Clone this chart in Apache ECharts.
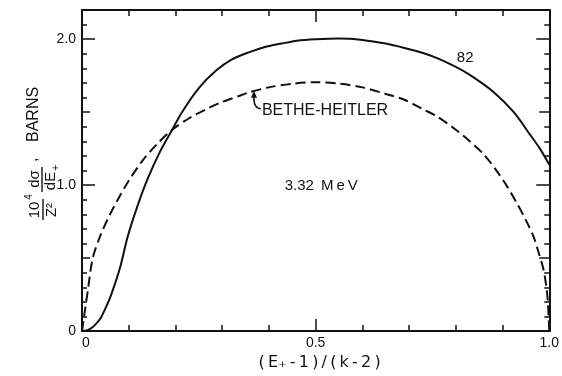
<!DOCTYPE html>
<html>
<head>
<meta charset="utf-8">
<script src="https://cdn.jsdelivr.net/npm/echarts@6/dist/echarts.min.js"></script>
<style>
  html, body { margin: 0; padding: 0; background: #fff; }
  #chart { width: 562px; height: 376px; }
</style>
</head>
<body>
<div id="chart"></div>
<script>
// Pair-production cross section for Z = 82 versus the Bethe-Heitler result, k = 3.32 MeV
const lead82X = [0, 0.01, 0.02, 0.03, 0.04, 0.05, 0.062, 0.081, 0.098, 0.119, 0.14, 0.167, 0.193, 0.214,
  0.25, 0.287, 0.32, 0.357, 0.39, 0.427, 0.46, 0.5, 0.55, 0.6, 0.65, 0.69, 0.73, 0.76, 0.8, 0.83,
  0.88, 0.924, 0.958, 0.98, 1.0];
const lead82Y = [0, 0.005, 0.02, 0.05, 0.09, 0.155, 0.245, 0.43, 0.65, 0.86, 1.04, 1.23, 1.38, 1.5,
  1.665, 1.785, 1.86, 1.91, 1.945, 1.97, 1.99, 2.0, 2.005, 1.995, 1.97, 1.94, 1.905, 1.87, 1.81, 1.755,
  1.64, 1.5, 1.35, 1.25, 1.14];

const betheX = [0, 0.003, 0.006, 0.013, 0.023, 0.04, 0.06, 0.08, 0.1, 0.13, 0.16, 0.193, 0.23, 0.272,
  0.3, 0.335, 0.357, 0.4, 0.45, 0.5, 0.55, 0.6, 0.65, 0.69, 0.73, 0.76, 0.8, 0.83, 0.86, 0.887,
  0.91, 0.93, 0.95, 0.966, 0.977, 0.987, 0.994, 0.997, 1.0];
const betheY = [0, 0.07, 0.135, 0.29, 0.5, 0.66, 0.8, 0.92, 1.03, 1.17, 1.28, 1.38, 1.46, 1.53,
  1.57, 1.61, 1.635, 1.67, 1.695, 1.705, 1.695, 1.67, 1.625, 1.585, 1.52, 1.47, 1.38, 1.3, 1.21, 1.1,
  0.99, 0.88, 0.76, 0.65, 0.54, 0.43, 0.3, 0.2, 0];

const xLabelValues = [0, 0.5, 1];
const yLabelValues = [0, 1, 2];
const xLongTicks = [0.5];
const yMidTicks = [0.5, 1.5];
const yLongTicks = [1, 2];

const ink = '#111';
const sans = '"Liberation Sans", Arial, sans-serif';
const fmt = v => (v === 0 ? '0' : v.toFixed(1));

function frameAxis(position, min, max, extra) {
  return Object.assign({
    type: 'value', position, min, max, interval: 0.1,
    axisLine: { show: true, onZero: false, lineStyle: { color: ink, width: 2 } },
    axisTick: { show: true, inside: true, length: 6, lineStyle: { color: ink, width: 1.5 } },
    axisLabel: { show: false },
    splitLine: { show: false }
  }, extra || {});
}
function tickOnlyAxis(position, min, max, values, len) {
  return {
    type: 'value', position, min, max,
    axisLine: { show: false, onZero: false },
    axisTick: { show: true, inside: true, length: len, customValues: values,
      lineStyle: { color: ink, width: 1.5 } },
    axisLabel: { show: false },
    splitLine: { show: false }
  };
}

const chart = echarts.init(document.getElementById('chart'), null, { renderer: 'canvas' });

chart.setOption({
  animation: false,
  backgroundColor: '#fff',
  grid: { left: 82, right: 9, top: 10, bottom: 43 },
  xAxis: [
    frameAxis('bottom', 0, 1, {
      axisLabel: {
        show: true, customValues: xLabelValues, formatter: fmt, color: ink,
        fontFamily: sans, fontSize: 14, margin: 5, alignMinLabel: 'left'
      },
      name: '(\u2009E\u208A\u2009-\u20091\u2009)\u2009/\u2009(\u2009k\u2009-\u20092\u2009)',
      nameLocation: 'middle', nameGap: 20,
      nameTextStyle: { color: ink, fontFamily: '"DejaVu Sans", sans-serif', fontSize: 16,
        padding: [0, 0, 0, 8] }
    }),
    tickOnlyAxis('bottom', 0, 1, xLongTicks, 12),
    frameAxis('top', 0, 1),
    tickOnlyAxis('top', 0, 1, xLongTicks, 12)
  ],
  yAxis: [
    frameAxis('left', 0, 2.2, {
      axisTick: { show: true, inside: true, length: 5, lineStyle: { color: ink, width: 1.5 } },
      axisLabel: {
        show: true, customValues: yLabelValues, formatter: fmt, color: ink,
        fontFamily: sans, fontSize: 14, margin: 6
      }
    }),
    tickOnlyAxis('left', 0, 2.2, yMidTicks, 8),
    tickOnlyAxis('left', 0, 2.2, yLongTicks, 13),
    frameAxis('right', 0, 2.2, {
      axisTick: { show: true, inside: true, length: 5, lineStyle: { color: ink, width: 1.5 } }
    }),
    tickOnlyAxis('right', 0, 2.2, yMidTicks, 10),
    tickOnlyAxis('right', 0, 2.2, yLongTicks, 13)
  ],
  series: [
    {
      name: '82', type: 'line', xAxisIndex: 0, yAxisIndex: 0,
      data: lead82X.map((x, i) => [x, lead82Y[i]]),
      showSymbol: false, smooth: 0.3,
      lineStyle: { color: ink, width: 2 }
    },
    {
      name: 'BETHE-HEITLER', type: 'line', xAxisIndex: 0, yAxisIndex: 0,
      data: betheX.map((x, i) => [x, betheY[i]]),
      showSymbol: false, smooth: 0.3,
      lineStyle: { color: ink, width: 2, type: [10, 5] }
    }
  ]
});

// Annotations placed from data coordinates
const px = (x, y) => chart.convertToPixel({ xAxisIndex: 0, yAxisIndex: 0 }, [x, y]);
const curveLabel = px(0.82, 1.871);
const betheLabel = px(0.385, 1.51);
const arrowTip = px(0.367, 1.64);
const energyLabel = px(0.512, 0.993);

const textStyle = (extra) => Object.assign({ fill: ink, fontFamily: sans }, extra);

chart.setOption({
  graphic: [
    { type: 'text', x: curveLabel[0], y: curveLabel[1],
      style: textStyle({ text: '82', fontSize: 15, align: 'center', verticalAlign: 'middle' }) },
    { type: 'text', x: betheLabel[0], y: betheLabel[1],
      style: textStyle({ text: 'BETHE-HEITLER', fontSize: 16, align: 'left', verticalAlign: 'middle' }) },
    { type: 'bezierCurve',
      shape: { x1: betheLabel[0] - 1, y1: betheLabel[1] - 2,
        cpx1: arrowTip[0], cpy1: betheLabel[1] - 2,
        x2: arrowTip[0] + 0.5, y2: arrowTip[1] + 5 },
      style: { stroke: ink, lineWidth: 1.6, fill: null } },
    { type: 'polygon',
      shape: { points: [[arrowTip[0] + 0.5, arrowTip[1] - 1], [arrowTip[0] - 2.5, arrowTip[1] + 6],
        [arrowTip[0] + 3.5, arrowTip[1] + 6]] },
      style: { fill: ink } },
    { type: 'text', x: energyLabel[0], y: energyLabel[1],
      style: textStyle({ text: '3.32\u2009 M\u2009e\u2009V', fontSize: 15, align: 'center', verticalAlign: 'middle' }) },
    // rotated y-axis title: 10^4/Z^2 dσ/dE+ , BARNS
    { type: 'group', x: 42, y: 230, rotation: Math.PI / 2,
      children: [
        { type: 'text', x: 20, y: 0, style: textStyle({ text: '10', fontSize: 15, align: 'center', verticalAlign: 'bottom' }) },
        { type: 'text', x: 33, y: -8, style: textStyle({ text: '4', fontSize: 10, align: 'center', verticalAlign: 'bottom' }) },
        { type: 'line', shape: { x1: 10, y1: 1, x2: 31, y2: 1 }, style: { stroke: ink, lineWidth: 1.4 } },
        { type: 'text', x: 20, y: 2, style: textStyle({ text: 'Z\u00B2', fontSize: 15, align: 'center', verticalAlign: 'top' }) },
        { type: 'text', x: 51, y: 0, style: textStyle({ text: 'd\u03C3', fontSize: 15, align: 'center', verticalAlign: 'bottom' }) },
        { type: 'line', shape: { x1: 38, y1: 0, x2: 63, y2: 0 }, style: { stroke: ink, lineWidth: 1.4 } },
        { type: 'text', x: 49, y: 1, style: textStyle({ text: 'dE', fontSize: 15, align: 'center', verticalAlign: 'top' }) },
        { type: 'text', x: 59, y: 8, style: textStyle({ text: '+', fontSize: 11, align: 'left', verticalAlign: 'top' }) },
        { type: 'text', x: 68, y: -1, style: textStyle({ text: ',', fontSize: 16, align: 'left', verticalAlign: 'bottom' }) },
        { type: 'text', x: 88, y: 0, style: textStyle({ text: 'BARNS', fontSize: 16, align: 'left', verticalAlign: 'bottom' }) }
      ] }
  ]
});
</script>
</body>
</html>
